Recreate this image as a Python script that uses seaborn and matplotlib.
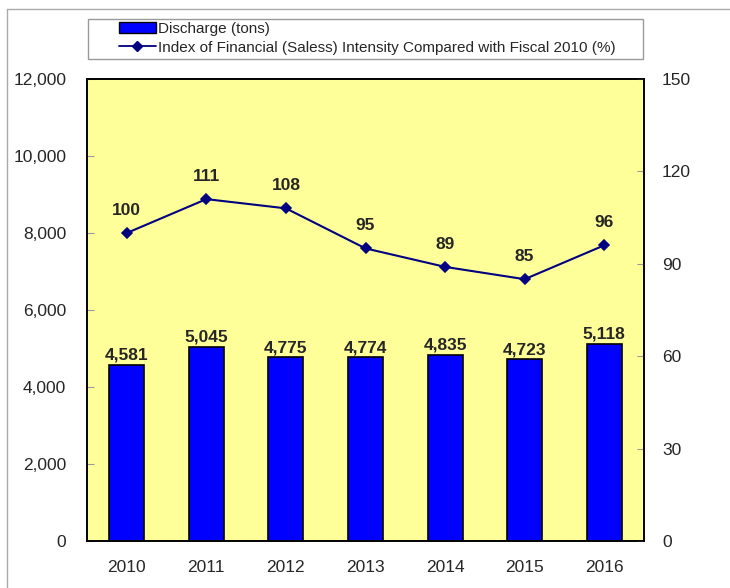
import matplotlib
matplotlib.use("Agg")
import matplotlib.pyplot as plt
from matplotlib.patches import Rectangle
from matplotlib.lines import Line2D
from matplotlib.ticker import FixedLocator
import seaborn as sns
import pandas as pd

years = ["2010", "2011", "2012", "2013", "2014", "2015", "2016"]
discharge = [4581, 5045, 4775, 4774, 4835, 4723, 5118]
intensity = [100, 111, 108, 95, 89, 85, 96]
left_ticks = [0, 2000, 4000, 6000, 8000, 10000, 12000]
right_ticks = [0, 30, 60, 90, 120, 150]
bar_label_name = "Discharge (tons)"
line_label_name = "Index of Financial (Saless) Intensity Compared with Fiscal 2010 (%)"

sns.set_style("white")
plt.rcParams["font.family"] = ["Liberation Sans", "DejaVu Sans"]

df = pd.DataFrame({"year": years, "discharge": discharge, "intensity": intensity})

W, H = 730, 588
fig = plt.figure(figsize=(W / 100, H / 100), dpi=100)
ax = fig.add_axes([87 / W, 1 - 541 / H, (644 - 87) / W, (541 - 79) / H])
ax.set_facecolor("#FFFF99")

sns.barplot(data=df, x="year", y="discharge", ax=ax, color="#0000FF",
            edgecolor="black", linewidth=1.2, width=0.44, saturation=1)
ax.set_ylim(0, 12000)
ax.set_xlim(-0.5, len(years) - 0.5)
ax.yaxis.set_major_locator(FixedLocator(left_ticks))
ax.set_yticklabels([f"{v:,}" for v in left_ticks])
ax.set_xlabel("")
ax.set_ylabel("")
ax.tick_params(axis="y", direction="in", length=5, color="#999999", pad=15, labelsize=12.5)
ax.tick_params(axis="x", length=0, pad=14, labelsize=12.5)
ax.xaxis.set_minor_locator(FixedLocator([i + 0.5 for i in range(len(years) - 1)]))
ax.tick_params(axis="x", which="minor", direction="in", length=5, color="#999999")
for s in ax.spines.values():
    s.set_color("black")
    s.set_linewidth(1.2)

for i, v in enumerate(discharge):
    ax.annotate(f"{v:,}", (i, v), xytext=(0, 1.5), textcoords="offset points",
                ha="center", va="bottom", fontsize=12.5, fontweight="bold")

ax2 = ax.twinx()
sns.pointplot(data=df, x="year", y="intensity", ax=ax2, color="#000080",
              markers="D", markersize=5, linewidth=1.5, linestyles="-")
ax2.set_ylim(0, 150)
ax2.set_xlim(-0.5, len(years) - 0.5)
ax2.yaxis.set_major_locator(FixedLocator(right_ticks))
ax2.set_ylabel("")
ax2.set_xlabel("")
ax2.tick_params(axis="y", direction="in", length=5, color="#999999", pad=13, labelsize=12.5)
for s in ax2.spines.values():
    s.set_color("black")
    s.set_linewidth(1.2)

for i, v in enumerate(intensity):
    ax2.annotate(f"{v}", (i, v), xytext=(0, 11), textcoords="offset points",
                 ha="center", va="bottom", fontsize=12.5, fontweight="bold")

# legend box
fig.patches.append(Rectangle((88 / W, 1 - 59 / H), (643 - 88) / W, (59 - 19) / H,
                             transform=fig.transFigure, facecolor="white",
                             edgecolor="#999999", linewidth=1, zorder=5))
handles = [
    Rectangle((0, 0), 1, 1, facecolor="#0000FF", edgecolor="black", linewidth=1),
    Line2D([], [], color="#000080", marker="D", markersize=5, linewidth=1.3),
]
leg = fig.legend(handles, [bar_label_name, line_label_name],
                 loc="upper left", bbox_to_anchor=(116 / W, 1 - 19 / H),
                 fontsize=11, frameon=False, borderpad=0.2, labelspacing=0.3,
                 handlelength=2.4, handletextpad=0.12, handleheight=0.75,
                 borderaxespad=0)
leg.set_zorder(6)

# outer chart frame (top and left edges visible)
fig.add_artist(Line2D([7 / W, 1], [1 - 9 / H, 1 - 9 / H], transform=fig.transFigure,
                      color="#AAAAAA", linewidth=1))
fig.add_artist(Line2D([7 / W, 7 / W], [0, 1 - 9 / H], transform=fig.transFigure,
                      color="#AAAAAA", linewidth=1))

fig.savefig("out.png", dpi=100)
